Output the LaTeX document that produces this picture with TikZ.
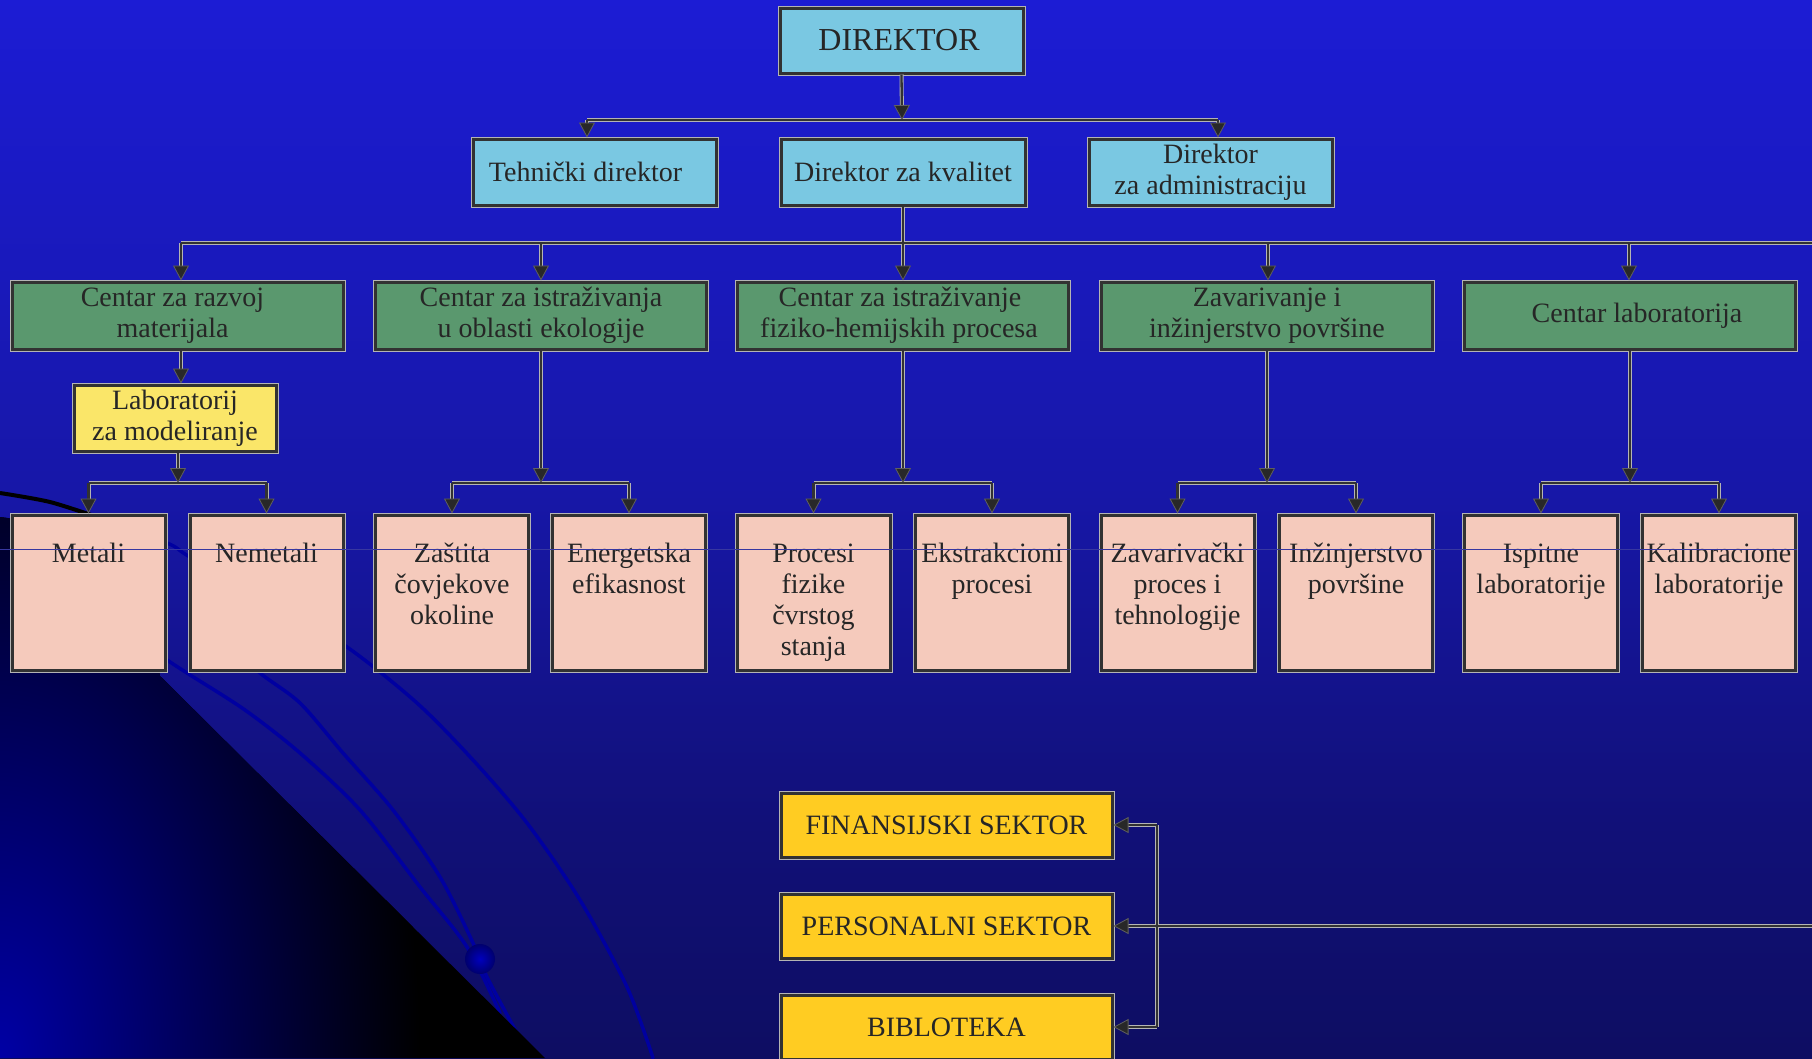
\documentclass[tikz,border=0pt]{standalone}
\usepackage{fontspec}
\setmainfont{Liberation Serif}
\usetikzlibrary{arrows.meta}
\definecolor{bgA}{RGB}{10,9,66}
\definecolor{bgB}{RGB}{12,12,88}
\definecolor{bgC}{RGB}{17,16,120}
\definecolor{bgD}{RGB}{23,23,168}
\definecolor{bgE}{RGB}{28,28,212}
\definecolor{bgF}{RGB}{31,30,232}
\definecolor{glow}{RGB}{0,0,165}
\definecolor{arcc}{RGB}{0,0,160}
\definecolor{ballc}{RGB}{0,0,190}
\definecolor{ballo}{RGB}{0,0,110}
\definecolor{cblue}{RGB}{122,200,226}
\definecolor{cgreen}{RGB}{90,152,110}
\definecolor{cyel}{RGB}{250,230,105}
\definecolor{cpink}{RGB}{245,202,188}
\definecolor{cgold}{RGB}{255,204,34}
\definecolor{bdr}{RGB}{50,50,50}
\definecolor{lg}{RGB}{180,180,180}
\definecolor{tipo}{RGB}{95,95,95}
\definecolor{tipf}{RGB}{40,40,40}
\definecolor{txt}{RGB}{38,38,38}
\definecolor{thinl}{RGB}{55,55,160}
\pgfdeclareverticalshading{bgshade}{100bp}{color(0bp)=(bgA); color(20bp)=(bgB); color(36bp)=(bgC); color(52bp)=(bgD); color(75bp)=(bgE); color(100bp)=(bgF)}
\newcommand\myfs{\fontsize{28}{31}\selectfont}
\newcommand\pinktext[1]{\parbox[c][155pt][t]{153pt}{\centering\rule{0pt}{47pt}#1}}
\newcommand\drawconns[2]{%
  \draw[#2] (dir.south) -- (b1);
  \draw[#1] (b1l) -- (b1r);
  \draw[#2] (b1l) -- (b1l |- tech.north);
  \draw[#2] (b1r) -- (b1r |- adm.north);
  \draw[#1] (kval.south) -- (s3);
  \draw[#1] (s1) -- (b2r);
  \draw[#2] (s1) -- (s1 |- g1.north);
  \draw[#2] (s2) -- (s2 |- g2.north);
  \draw[#2] (s3) -- (s3 |- g3.north);
  \draw[#2] (s4) -- (s4 |- g4.north);
  \draw[#2] (s5) -- (s5 |- g5.north);
  \draw[#2] (g1.south -| s1) -- (lab.north -| s1);
  \draw[#2] (lab.south -| r1) -- (r1);
  \draw[#1] (p1.north |- rk) -- (p2.north |- rk);
  \draw[#2] (p1.north |- rk) -- (p1.north);
  \draw[#2] (p2.north |- rk) -- (p2.north);
  \draw[#2] (g2.south) -- (g2.south |- rk);
  \draw[#1] (p3.north |- rk) -- (p4.north |- rk);
  \draw[#2] (p3.north |- rk) -- (p3.north);
  \draw[#2] (p4.north |- rk) -- (p4.north);
  \draw[#2] (g3.south) -- (g3.south |- rk);
  \draw[#1] (p5.north |- rk) -- (p6.north |- rk);
  \draw[#2] (p5.north |- rk) -- (p5.north);
  \draw[#2] (p6.north |- rk) -- (p6.north);
  \draw[#2] (g4.south) -- (g4.south |- rk);
  \draw[#1] (p7.north |- rk) -- (p8.north |- rk);
  \draw[#2] (p7.north |- rk) -- (p7.north);
  \draw[#2] (p8.north |- rk) -- (p8.north);
  \draw[#2] (g5.south) -- (g5.south |- rk);
  \draw[#1] (p9.north |- rk) -- (p10.north |- rk);
  \draw[#2] (p9.north |- rk) -- (p9.north);
  \draw[#2] (p10.north |- rk) -- (p10.north);
  \draw[#1] (v1) -- (v3);
  \draw[#2] (v1) -- (fin.east);
  \draw[#2] (v3) -- (bib.east);
  \draw[#2] (rr) -- (pers.east);
}
\tikzset{
  bx/.style={rectangle, draw=bdr, line width=3pt, inner sep=0pt, text=txt,
    align=center, font=\myfs, preaction={draw=lg, line width=5pt}},
  blu/.style={bx, fill=cblue, minimum width=243, minimum height=66},
  grn/.style={bx, fill=cgreen, minimum width=331, minimum height=67},
  labbox/.style={bx, fill=cyel, minimum width=202, minimum height=66},
  pnk/.style={bx, fill=cpink, minimum width=153, minimum height=155},
  gld/.style={bx, fill=cgold, minimum width=331, minimum height=64},
  pipe/.style={draw=lg, line width=4pt},
  pipea/.style={draw=lg, line width=4pt, shorten >=8pt},
  wire/.style={draw=bdr, line width=2.3pt},
  wirea/.style={draw=bdr, line width=2.3pt,
    -{Triangle[width=16pt,length=15pt,line width=0.8pt,color=tipo,fill=tipf]}},
  arcline/.style={draw=arcc, line width=3.5pt, line cap=round},
}
\begin{document}
\begin{tikzpicture}[x=1pt,y=-1pt]
\useasboundingbox (0,0) rectangle (1812,1058);
% background
\shade[shading=bgshade] (0,0) rectangle (1812,1058);
% decorative arcs
\draw[arcline] plot[smooth] coordinates {(90,516) (167,543) (190,557) (270,600) (347,647) (417,703) (473,760) (527,823) (580,900) (627,987) (653,1058)};
\draw[draw=black, line width=4pt] plot[smooth] coordinates {(0,493) (50,502) (100,518)};
\draw[arcline] plot[smooth] coordinates {(225,640) (260,673) (300,703) (343,753) (393,810) (440,877) (473,943) (487,977) (518,1035)};
\draw[arcline] plot[smooth] coordinates {(140,642) (167,660) (187,673) (245,710) (300,753) (360,810) (420,887) (467,947) (500,1013)};
% black region with glow
\fill[black] (0,517) .. controls (70,525) and (140,570) .. (160,676) -- (545,1058) -- (0,1058) -- cycle;
\begin{scope}
  \clip (0,517) .. controls (70,525) and (140,570) .. (160,676) -- (545,1058) -- (0,1058) -- cycle;
  \shade[inner color=glow, outer color=black] (0,1058) ellipse (420 and 720);
\end{scope}
\shade[inner color=ballc, outer color=ballo] (480,959) circle (15);
% nodes
\node[blu, minimum height=65, font=\fontsize{32}{36}\selectfont] (dir) at (901.5,40.5) {DIREKTOR\hspace*{5pt}};
\node[blu] (tech) at (594.5,172) {Tehnički direktor\hspace*{18pt}};
\node[blu, minimum width=244] (kval) at (903,172) {Direktor za kvalitet};
\node[blu] (adm) at (1210.5,172) {Direktor\\za administraciju};
\node[grn] (g1) at (177.5,315.5) {Centar za razvoj\hspace*{10pt}\\materijala\hspace*{10pt}};
\node[grn] (g2) at (541,315.5) {Centar za istraživanja\\u oblasti ekologije};
\node[grn] (g3) at (903,315.5) {Centar za istraživanje\hspace*{6pt}\\fiziko-hemijskih procesa\hspace*{8pt}};
\node[grn] (g4) at (1267,315.5) {Zavarivanje i\\inžinjerstvo površine};
\node[grn] (g5) at (1630,315.5) {\hspace*{14pt}Centar laboratorija};
\node[labbox] (lab) at (175,418) {Laboratorij\\za modeliranje};
\node[pnk] (p1) at (88.5,592.5) {\pinktext{Metali}};
\node[pnk] (p2) at (266.5,592.5) {\pinktext{Nemetali}};
\node[pnk] (p3) at (452,592.5) {\pinktext{Zaštita\\čovjekove\\okoline}};
\node[pnk] (p4) at (629,592.5) {\pinktext{Energetska\\efikasnost}};
\node[pnk] (p5) at (813.5,592.5) {\pinktext{Procesi\\fizike\\čvrstog\\stanja}};
\node[pnk] (p6) at (992,592.5) {\pinktext{Ekstrakcioni\\procesi}};
\node[pnk] (p7) at (1177.5,592.5) {\pinktext{Zavarivački\\proces i\\tehnologije}};
\node[pnk] (p8) at (1356,592.5) {\pinktext{Inžinjerstvo\\površine}};
\node[pnk] (p9) at (1541,592.5) {\pinktext{Ispitne\\laboratorije}};
\node[pnk] (p10) at (1719,592.5) {\pinktext{Kalibracione\\laboratorije}};
\node[gld] (fin) at (946.5,825) {FINANSIJSKI SEKTOR};
\node[gld] (pers) at (946.5,926) {PERSONALNI SEKTOR};
\node[gld] (bib) at (946.5,1027) {BIBLOTEKA};
% bus coordinates
\coordinate (b1) at (902,120);
\coordinate (b1l) at (587,120);
\coordinate (b1r) at (1218,120);
\coordinate (s1) at (181,243);
\coordinate (s2) at (541,243);
\coordinate (s3) at (903,243);
\coordinate (s4) at (1268,243);
\coordinate (s5) at (1629,243);
\coordinate (b2r) at (1812,243);
\coordinate (rk) at (0,483);
\coordinate (r1) at (178,483);
\coordinate (v1) at (1157,825);
\coordinate (v3) at (1157,1027);
\coordinate (rr) at (1812,926);
\coordinate (tl) at (0,549);
% connectors
\drawconns{pipe}{pipea}
\drawconns{wire}{wirea}
% thin line across the lowest row
\draw[draw=thinl, line width=0.9pt] (tl) -- (p10.east |- tl);
\end{tikzpicture}
\end{document}
